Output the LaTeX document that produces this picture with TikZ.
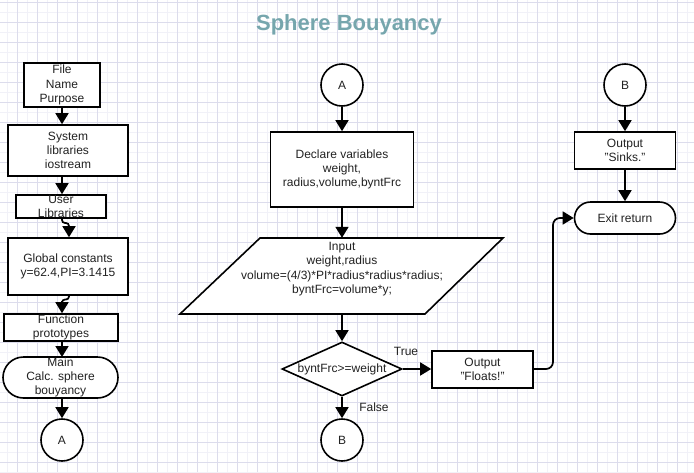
\documentclass[tikz,border=0pt]{standalone}
\usepackage{fontspec}
\setmainfont{Liberation Sans}
\usetikzlibrary{shapes.geometric,shapes.misc,arrows.meta}
\definecolor{gridmaj}{HTML}{DCDCEC}
\definecolor{gridmin}{HTML}{F1F1F8}
\definecolor{titlec}{HTML}{76A6AD}
\definecolor{txt}{HTML}{222222}
\tikzset{
  base/.style={draw=black, line width=1.6pt, fill=white, text=txt, font=\fontsize{12}{14.3}\selectfont, align=center, inner sep=0pt},
  boxn/.style={base, rectangle},
  stad/.style={base, rounded rectangle},
  conn/.style={base, circle, minimum size=42pt},
  dec/.style={base, diamond, aspect=2.2},
  wire/.style={line width=1.7pt, rounded corners=5pt},
  arr/.style={wire, -{Triangle[length=11pt,width=13pt]}},
  lbl/.style={text=txt, font=\fontsize{12}{14}\selectfont, inner sep=0pt}
}
\begin{document}
\begin{tikzpicture}[x=1pt,y=-1pt]
\useasboundingbox (0,0) rectangle (694,472);
\fill[white] (0,0) rectangle (694,472);
\foreach \x in {7,27,...,694} \draw[gridmin,line width=0.6pt] (\x,0) -- (\x,472);
\foreach \y in {12,32,...,472} \draw[gridmin,line width=0.6pt] (0,\y) -- (694,\y);
\foreach \x in {17,37,...,694} \draw[gridmaj,line width=0.7pt] (\x,0) -- (\x,472);
\foreach \y in {2,22,...,472} \draw[gridmaj,line width=0.7pt] (0,\y) -- (694,\y);

\node[text=titlec, font=\bfseries\fontsize{22}{26}\selectfont] (title) at (349,25) {Sphere Bouyancy};

% left column
\node[boxn, minimum width=76pt, minimum height=44pt] (file) at (62,85) {File\\Name\\Purpose};
\node[boxn, minimum width=120pt, minimum height=51pt] (sys) at (68,150.5) {System\\libraries\\iostream};
\node[boxn, minimum width=90pt, minimum height=23pt] (user) at (61,206.5) {User\\Libraries};
\node[boxn, minimum width=120pt, minimum height=57pt] (glob) at (68,266.5) {Global constants\\y=62.4,PI=3.1415};
\node[boxn, minimum width=114pt, minimum height=27pt] (func) at (61,327.5) {Function\\prototypes};
\node[stad, minimum width=115pt, minimum height=41pt] (main) at (60.5,377.5) {Main\\Calc. sphere\\bouyancy};
\node[conn] (a1) at (62,440) {A};
\coordinate (j1) at (69,227);
\coordinate (j2) at (62,302);

\draw[arr] (file.south) -- (file.south |- sys.north);
\draw[arr] (sys.south -| file.south) -- (user.north -| file.south);
\draw[wire, rounded corners=3pt] (62,218) -- (62,223) -- (69,223) -- (j1);
\draw[arr] (69,226) -- (glob.north -| j1);
\draw[wire, rounded corners=3pt] (69,295) -- (69,299.5) -- (62,299.5) -- (j2);
\draw[arr] (62,301) -- (func.north -| j2);
\draw[arr] (62,341) -- (62,357);
\draw[arr] (main.south -| a1.north) -- (a1.north);

% middle column
\node[conn] (a2) at (342,85) {A};
\node[boxn, minimum width=143pt, minimum height=75pt] (decl) at (342,169.5) {Declare variables\\weight,\\radius,volume,byntFrc};
\node[minimum width=245pt, minimum height=76pt, inner sep=0pt] (input) at (342,276) {};
\draw[line width=1.6pt, fill=white] (260,238) -- (503,238) -- (425,314) -- (180,314) -- cycle;
\node[lbl, align=center, font=\fontsize{12}{14.3}\selectfont] (inputtxt) at (342,269) {Input\\weight,radius\\volume=(4/3)*PI*radius*radius*radius;\\byntFrc=volume*y;};
\node[dec, minimum width=120pt, minimum height=54pt] (cond) at (342,369) {byntFrc>=weight};
\node[boxn, minimum width=101pt, minimum height=37pt] (floats) at (482.5,369.5) {Output\\"Floats!"};
\node[conn] (b1) at (342,440) {B};
\node[lbl] (tlbl) at (406,351) {True};
\node[lbl] (flbl) at (374,407) {False};

\draw[arr] (a2.south) -- (decl.north);
\draw[arr] (decl.south) -- (input.north);
\draw[arr] (input.south) -- (cond.north);
\draw[arr] (cond.east) -- (floats.west |- cond.east);
\draw[arr] (cond.south) -- (b1.north);

% right column
\node[conn] (b2) at (625,85) {B};
\node[boxn, minimum width=101pt, minimum height=37pt] (sinks) at (625,150.5) {Output\\"Sinks."};
\node[stad, minimum width=101pt, minimum height=32pt] (exit) at (625,218) {Exit return};

\draw[arr] (b2.south) -- (sinks.north);
\draw[arr] (sinks.south) -- (exit.north);
\draw[arr, rounded corners=7pt] (floats.east |- cond.east) -- (553,369) -- (553,218) -- (exit.west);
\end{tikzpicture}
\end{document}
